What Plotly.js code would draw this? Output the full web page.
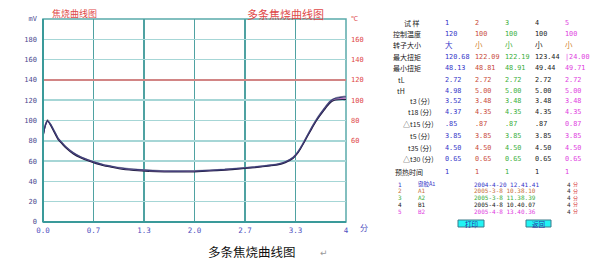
<!DOCTYPE html>
<html><head><meta charset="utf-8">
<script src="https://cdn.plot.ly/plotly-3.0.1.min.js"></script>
<style>html,body{margin:0;padding:0;background:#fff;}#chart{width:606px;height:275px;}</style>
</head><body><div id="chart"></div>
<script>
// ---- data ----
const timeMin = [0,0.03,0.06,0.1,0.15,0.2,0.25,0.3,0.4,0.5,0.6,0.7,0.8,0.9,1.0,1.2,1.4,1.6,1.8,2.0,2.2,2.4,2.6,2.8,3.0,3.1,3.2,3.3,3.35,3.4,3.45,3.5,3.55,3.6,3.65,3.7,3.75,3.8,3.85,3.9,3.95,4.0];
const curve1 = [84,95,100,95,88,81,77,73,67,63,60,57.5,55.5,54,52.5,50.8,49.8,49.3,49.2,49.4,50.2,51,52.3,53.6,55.3,56.3,58.5,62.5,66.5,72,78.5,85.5,92,98.5,104,109,114,118,120,120.5,120.7,120.6];
const curve2 = [86,96,99.5,95.5,88.5,81.5,77.5,73.5,67.5,63.5,60.5,58,56,54.5,53,51.3,50.3,49.8,49.7,49.9,50.6,51.4,52.6,53.9,55.6,56.6,58.8,63,67,72.5,79,86,92.5,99,104.5,109.5,114.5,118.5,120.5,121.2,121.8,122.1];
const curve3 = [85,95.5,100.5,96,89,82,77.8,73.8,67.8,63.6,60.6,58.1,56,54.4,53,51.4,50.4,49.9,49.8,50,50.7,51.5,52.7,54,55.7,56.8,59,63.3,67.3,72.8,79.4,86.4,93,99.4,105,110,115,119,121,121.6,122,122.2];
const curve4 = [84.5,94.5,99,96.5,89.5,82.5,78.2,74.2,68.2,64,61,58.5,56.4,54.9,53.5,51.9,50.9,50.2,50.1,50.3,51,51.8,53,54.3,56,57.1,59.3,63.6,67.6,73.2,79.8,86.8,93.5,99.8,105.4,110.5,115.5,119.5,121.6,122.4,123,123.4];
const curve5 = [83,96,101,96.8,89.8,82.8,78.5,74.5,68.5,64.3,61.3,58.8,56.7,55.2,53.8,52.2,51.2,50.5,50.4,50.6,51.3,52.1,53.3,54.6,56.3,57.4,59.6,63.9,68,73.6,80.2,87.2,94,100.3,106,111,116,120,122,123,123.6,124];
const limitLine = 140;

const xTickVals = [0,0.6667,1.3333,2,2.6667,3.3333,4];
const xTickText = ['0.0','0.7','1.3','2.0','2.7','3.3','4'];
const yTickVals = [0,20,40,60,80,100,120,140,160,180,200];
const yTickText = ['0','20','40','60','80','100','120','140','160','180','mV'];
const y2TickVals = [60,80,100,120,140,160,180];
const y2TickText = ['60','80','100','120','140','160','℃'];

const rowLabels = ['试 样','控制温度','转子大小','最大扭矩','最小扭矩','tL','tH','t3 (分)','t18 (分)','△t15 (分)','t5 (分)','t35 (分)','△t30 (分)','预热时间'];
const sampleNo   = ['1','2','3','4','5'];
const controlTemp= ['120','100','100','100','100'];
const rotorSize  = ['大','小','小','小','小'];
const maxTorque  = ['120.68','122.09','122.19','123.44','|24.00'];
const minTorque  = ['48.13','48.81','48.91','49.44','49.71'];
const tL   = ['2.72','2.72','2.72','2.72','2.72'];
const tH   = ['4.98','5.00','5.00','5.00','5.00'];
const t3   = ['3.52','3.48','3.48','3.48','3.48'];
const t18  = ['4.37','4.35','4.35','4.35','4.35'];
const dt15 = ['.85','.87','.87','.87','0.87'];
const t5   = ['3.85','3.85','3.85','3.85','3.85'];
const t35  = ['4.50','4.50','4.50','4.50','4.50'];
const dt30 = ['0.65','0.65','0.65','0.65','0.65'];
const preheat = ['1','1','1','1','1'];
const tableRows = [sampleNo,controlTemp,rotorSize,maxTorque,minTorque,tL,tH,t3,t18,dt15,t5,t35,dt30,preheat];

const legendNo = ['1','2','3','4','5'];
const legendName = ['键胶A1','A1','A2','B1','B2'];
const legendDate = ['2004-4-20 12.41.41','2005-3-8 10.38.10','2005-3-8 11.38.39','2005-4-8 10.40.07','2005-4-8 13.40.36'];
const legendTime = ['4','4','4','4','4'];
const legendUnit = '分';

// ---- styles / positions ----
const colColors = ['#3535c8','#c84a3a','#3aae3a','#222222','#e040e0'];
const legendColors = ['#3535c8','#c8703a','#3aae3a','#222222','#e040e0'];
const curveColors = ['#8a8aa8','#c070c0','#9a9aaa','#26264a','#3a3a78'];
const W = 606, H = 275, L = 43, R = 346, T = 19, B = 222;
const px = x => (x - L) / (R - L);
const py = y => (B - y) / (B - T);
const rowY = [22.7,33.7,44.7,57,68,80,91,101,111.7,124,136,147.7,159.3,171.7];
const rowLabelX = [412,407,407,407,407,401,401,420,420,418,420,420,418,409];
const colX = [443,473,503,533,563];

const traces = [];
const curves = [curve3,curve2,curve5,curve1,curve4];
curves.forEach((c,i)=>traces.push({x:timeMin,y:c,type:'scatter',mode:'lines',
  line:{color:curveColors[i],width:1.1,shape:'spline',smoothing:0.4},hoverinfo:'skip',showlegend:false}));
traces.push({x:[0,4],y:[0,0],yaxis:'y2',mode:'none',type:'scatter',showlegend:false,hoverinfo:'skip'});

const mono = 'DejaVu Sans Mono, monospace';
const cjk = 'Noto Sans CJK SC, sans-serif';
const ann = [];
function addText(x,y,text,opts){
  ann.push(Object.assign({xref:'paper',yref:'paper',x:px(x),y:py(y),text:text,showarrow:false,
    xanchor:'left',yanchor:'middle',font:{family:cjk,size:7,color:'#222'}},opts||{}));
}
addText(50,14,'焦烧曲线图',{font:{family:cjk,size:9,color:'#e04848'}});
addText(285,14,'多条焦烧曲线图',{xanchor:'center',font:{family:cjk,size:11,color:'#e04848'}});
addText(358,227,'分',{font:{family:cjk,size:8,color:'#5050c0'}});
addText(252,251,'多条焦烧曲线图',{xanchor:'center',font:{family:cjk,size:12.5,color:'#111'}});
addText(318,253,'↵',{font:{family:'DejaVu Sans',size:9,color:'#999'}});

rowLabels.forEach((lab,r)=>{
  addText(rowLabelX[r],rowY[r],lab,{xanchor:'center',font:{family:cjk,size:7,color:'#222'}});
  tableRows[r].forEach((v,c)=>{
    let col = colColors[c];
    if (r===2 && (c===1||c===4)) col = '#d08030';
    addText(colX[c],rowY[r],v,{font:{family:(r===2?cjk:mono),size:(r===2?7.5:6.8),color:col}});
  });
});
const legY = [184,190.7,197.5,204.3,211];
legendNo.forEach((n,i)=>{
  const col = legendColors[i];
  addText(396,legY[i],n,{font:{family:mono,size:6,color:col}});
  addText(416,legY[i],legendName[i],{font:{family:(i===0?cjk:mono),size:(i===0?5.5:6),color:col}});
  addText(472,legY[i],legendDate[i],{font:{family:mono,size:6,color:col}});
  addText(565,legY[i],legendTime[i],{font:{family:mono,size:6,color:'#333'}});
  addText(571,legY[i],legendUnit,{font:{family:cjk,size:5,color:'#d84040'}});
});

const shapes = [
  {type:'line',xref:'paper',yref:'y',x0:0,x1:1,y0:limitLine,y1:limitLine,line:{color:'#e06a6a',width:1.5},layer:'above'},
  {type:'rect',xref:'paper',yref:'paper',x0:0,x1:1,y0:0,y1:1,line:{color:'#5aabab',width:1.5},layer:'below'},
  {type:'line',xref:'paper',yref:'paper',x0:0,x1:0,y0:0,y1:1,line:{color:'#3a9a9a',width:2},layer:'above'},
  {type:'line',xref:'paper',yref:'paper',x0:0,x1:1,y0:0,y1:0,line:{color:'#3a9a9a',width:2},layer:'above'}
];
const buttons = [[458,484,'打印'],[526,551,'返回']];
buttons.forEach(b=>{
  shapes.push({type:'rect',xref:'paper',yref:'paper',x0:px(b[0]),x1:px(b[1]),y0:py(227),y1:py(220),
    fillcolor:'#22f4f4',line:{color:'#3a7a8a',width:1}});
  addText((b[0]+b[1])/2,223.5,b[2],{xanchor:'center',font:{family:cjk,size:6.5,color:'#2a2aa0'}});
});

const layout = {
  width:W,height:H,margin:{l:L,r:W-R,t:T,b:H-B,pad:0},
  paper_bgcolor:'#fff',plot_bgcolor:'#fff',showlegend:false,
  xaxis:{range:[0,4],tickvals:xTickVals,ticktext:xTickText,showgrid:true,gridcolor:'#4fa2a2',gridwidth:1.5,
    zeroline:false,showline:false,ticks:'',tickfont:{family:mono,size:7.5,color:'#5050c0'},ticklabelstandoff:2},
  yaxis:{range:[0,200],tickvals:yTickVals,ticktext:yTickText,showgrid:true,gridcolor:'#a6d6d6',gridwidth:1.5,
    zeroline:false,showline:false,ticks:'',tickfont:{family:mono,size:7,color:'#4a4a90'},ticklabelstandoff:5},
  yaxis2:{range:[-20,180],overlaying:'y',side:'right',tickvals:y2TickVals,ticktext:y2TickText,showgrid:false,
    zeroline:false,showline:false,ticks:'',tickfont:{family:mono,size:7,color:'#e04848'},ticklabelstandoff:4},
  shapes:shapes,annotations:ann
};
Plotly.newPlot('chart',traces,layout,{staticPlot:true,displayModeBar:false});
</script></body></html>
